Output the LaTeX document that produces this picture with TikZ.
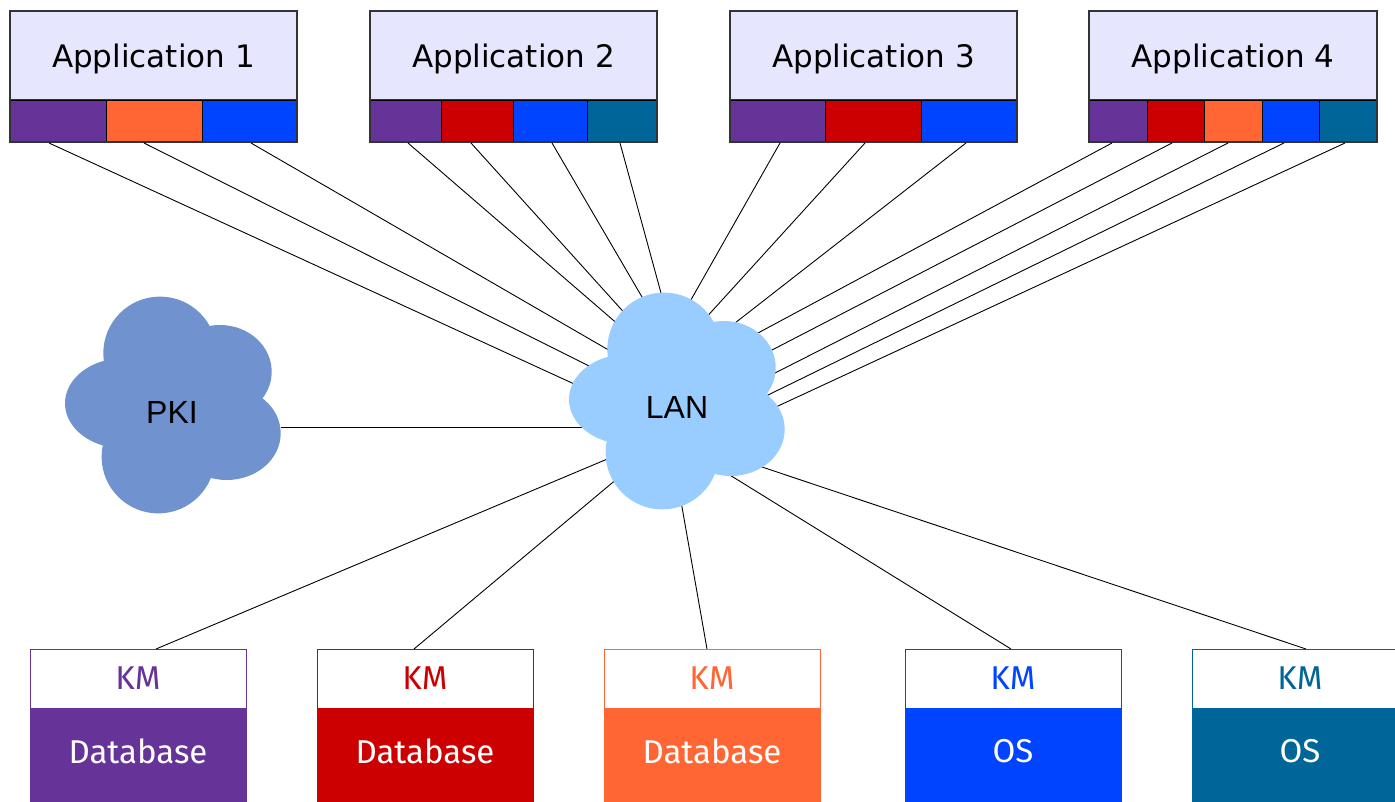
\documentclass[tikz,border=0pt]{standalone}
\usepackage{fontspec}
\setmainfont{DejaVu Sans}
\newfontfamily\kmfont{Fira Sans}
\newfontfamily\cloudfont{Liberation Sans}
\definecolor{cpurple}{HTML}{663399}
\definecolor{corange}{HTML}{FF6633}
\definecolor{cblue}{HTML}{0044FF}
\definecolor{cred}{HTML}{CC0000}
\definecolor{cteal}{HTML}{006699}
\definecolor{appfill}{HTML}{E6E6FF}
\definecolor{appline}{HTML}{333333}
\definecolor{pkifill}{HTML}{7092CF}
\definecolor{lanfill}{HTML}{99CCFF}
\newcommand\drawmycloud[3]{%
  \begin{scope}[shift={(#1,#2)}]
    \fill[#3] (110,108) ellipse [x radius=75pt, y radius=72pt];
    \fill[#3] (95,56.3) circle (56.7pt);
    \fill[#3] (155,74.7) ellipse [x radius=51.7pt, y radius=46.7pt];
    \fill[#3] (58.3,106.3) ellipse [x radius=58.3pt, y radius=45pt];
    \fill[#3] (161.7,136.3) ellipse [x radius=54pt, y radius=46.7pt];
    \fill[#3] (93.3,159.7) circle (56.7pt);
  \end{scope}}
\tikzset{
  apptitle/.style={draw=appline, line width=1.2pt, fill=appfill, anchor=north west,
    minimum width=287pt, minimum height=89pt, inner sep=0pt, outer sep=0pt,
    text depth=0pt, font=\fontsize{31}{31}\selectfont},
  seg/.style={draw=black, line width=0.8pt, anchor=north west, minimum height=42pt,
    inner sep=0pt, outer sep=0pt},
  conn/.style={draw=black, line width=0.9pt, shorten >=-14pt},
  kmtop/.style={draw=#1, text=#1, fill=white, line width=1pt, anchor=north west,
    minimum width=216pt, minimum height=59pt, inner sep=0pt, outer sep=0pt,
    font=\kmfont\fontsize{33}{33}\selectfont},
  kmbot/.style={draw=#1, fill=#1, text=white, line width=1pt, anchor=north west,
    minimum width=216pt, minimum height=100pt, inner sep=0pt, outer sep=0pt,
    text depth=14pt, font=\kmfont\fontsize{33}{33}\selectfont},
  cloudtext/.style={font=\cloudfont\fontsize{32}{32}\selectfont, inner sep=0pt}
}
\begin{document}
\begin{tikzpicture}[x=1pt,y=-1pt]
\useasboundingbox (0,0) rectangle (1395,802);
\clip (0,0) rectangle (1395,802);
\fill[white] (0,0) rectangle (1395,802);

% ---- application boxes ----
\node[apptitle] (app1) at (10,11) {Application 1};
\node[seg, fill=cpurple, minimum width=96pt] (a1s1) at (10,100) {};
\node[seg, fill=corange, minimum width=96pt] (a1s2) at (106,100) {};
\node[seg, fill=cblue, minimum width=95pt] (a1s3) at (202,100) {};
\draw[appline, line width=1.2pt] (app1.north west) rectangle (a1s3.south east);

\node[apptitle] (app2) at (370,11) {Application 2};
\node[seg, fill=cpurple, minimum width=71pt] (a2s1) at (370,100) {};
\node[seg, fill=cred, minimum width=72pt] (a2s2) at (441,100) {};
\node[seg, fill=cblue, minimum width=74pt] (a2s3) at (513,100) {};
\node[seg, fill=cteal, minimum width=70pt] (a2s4) at (587,100) {};
\draw[appline, line width=1.2pt] (app2.north west) rectangle (a2s4.south east);

\node[apptitle] (app3) at (730,11) {Application 3};
\node[seg, fill=cpurple, minimum width=95pt] (a3s1) at (730,100) {};
\node[seg, fill=cred, minimum width=96pt] (a3s2) at (825,100) {};
\node[seg, fill=cblue, minimum width=96pt] (a3s3) at (921,100) {};
\draw[appline, line width=1.2pt] (app3.north west) rectangle (a3s3.south east);

\node[apptitle, minimum width=288pt] (app4) at (1089,11) {Application 4};
\node[seg, fill=cpurple, minimum width=58pt] (a4s1) at (1089,100) {};
\node[seg, fill=cred, minimum width=57pt] (a4s2) at (1147,100) {};
\node[seg, fill=corange, minimum width=58pt] (a4s3) at (1204,100) {};
\node[seg, fill=cblue, minimum width=57pt] (a4s4) at (1262,100) {};
\node[seg, fill=cteal, minimum width=58pt] (a4s5) at (1319,100) {};
\draw[appline, line width=1.2pt] (app4.north west) rectangle (a4s5.south east);

% ---- KM boxes ----
\node[kmtop=cpurple] (km1) at (30,649) {KM};
\node[kmbot=cpurple] (db1) at (30,708) {Database};
\node[kmtop=cred] (km2) at (317,649) {KM};
\node[kmbot=cred] (db2) at (317,708) {Database};
\node[kmtop=corange] (km3) at (604,649) {KM};
\node[kmbot=corange] (db3) at (604,708) {Database};
\node[kmtop=cblue] (km4) at (905,649) {KM};
\node[kmbot=cblue] (db4) at (905,708) {OS};
\node[kmtop=cteal] (km5) at (1192,649) {KM};
\node[kmbot=cteal] (db5) at (1192,708) {OS};

% ---- connector end points ----
\coordinate (p11) at (49,143);   \coordinate (q11) at (572,383);
\coordinate (p12) at (144,143);  \coordinate (q12) at (587,365);
\coordinate (p13) at (251,143);  \coordinate (q13) at (612,352);
\coordinate (p21) at (408,143);  \coordinate (q21) at (613,320);
\coordinate (p22) at (471,143);  \coordinate (q22) at (620,308);
\coordinate (p23) at (552,143);  \coordinate (q23) at (642,297);
\coordinate (p24) at (620,143);  \coordinate (q24) at (661,293);
\coordinate (p31) at (780,143);  \coordinate (q31) at (692,298);
\coordinate (p32) at (865,143);  \coordinate (q32) at (713,310);
\coordinate (p33) at (966,143);  \coordinate (q33) at (735,323);
\coordinate (p41) at (1112,143); \coordinate (q41) at (758,333);
\coordinate (p42) at (1172,143); \coordinate (q42) at (772,350);
\coordinate (p43) at (1228,143); \coordinate (q43) at (775,373);
\coordinate (p44) at (1284,143); \coordinate (q44) at (768,395);
\coordinate (p45) at (1345,143); \coordinate (q45) at (778,406);
\coordinate (pk) at (281,427);   \coordinate (qk) at (580,427);
\coordinate (pb1) at (156,649);  \coordinate (qb1) at (605,460);
\coordinate (pb2) at (414,649);  \coordinate (qb2) at (612,483);
\coordinate (pb3) at (707,649);  \coordinate (qb3) at (682,507);
\coordinate (pb4) at (1011,649); \coordinate (qb4) at (733,477);
\coordinate (pb5) at (1306,649); \coordinate (qb5) at (762,467);

\foreach \c in {11,12,13,21,22,23,24,31,32,33,41,42,43,44,45,k,b1,b2,b3,b4,b5}
  \draw[conn] (p\c) -- (q\c);

% ---- clouds ----
\drawmycloud{65}{297}{pkifill}
\drawmycloud{569}{293}{lanfill}
\node[cloudtext] (pki) at (172,412) {PKI};
\node[cloudtext] (lan) at (677,407) {LAN};
\end{tikzpicture}
\end{document}
